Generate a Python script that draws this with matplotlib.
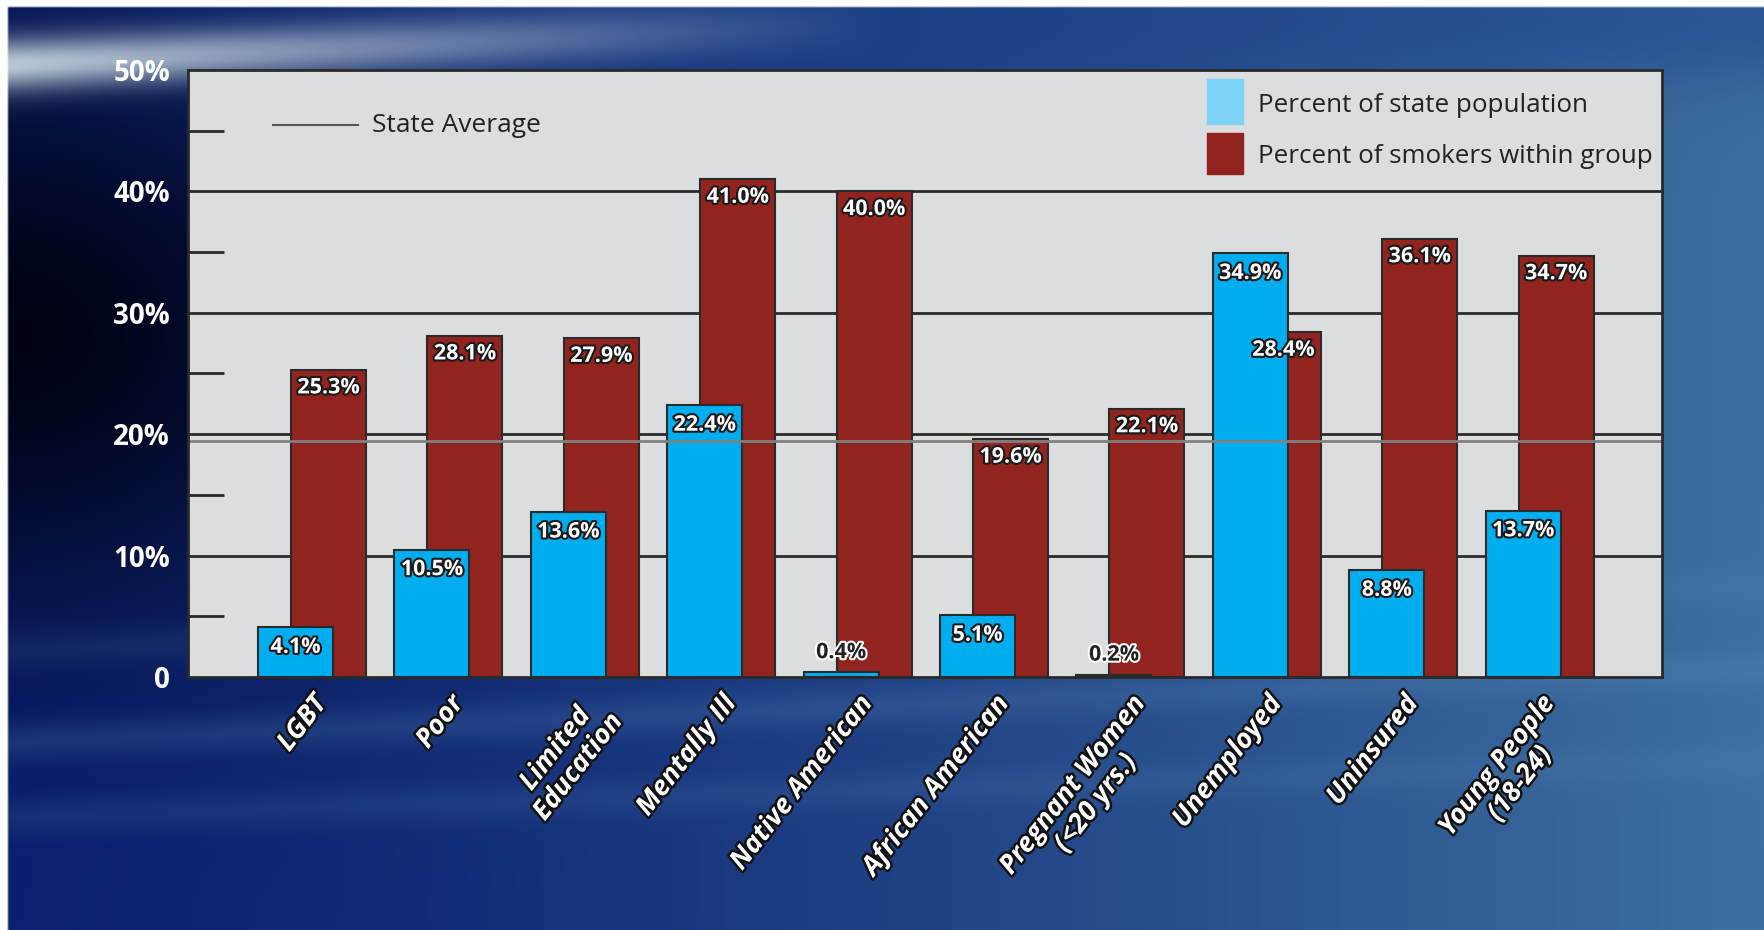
import numpy as np
import matplotlib
matplotlib.use("Agg")
import matplotlib.pyplot as plt
import matplotlib.patheffects as pe
from matplotlib.colors import to_rgb
from matplotlib.patches import Rectangle

# data
groups = ["LGBT", "Poor", "Limited\nEducation", "Mentally Ill", "Native American",
          "African American", "Pregnant Women\n(<20 yrs.)", "Unemployed", "Uninsured",
          "Young People\n(18-24)"]
pop_pct = [4.1, 10.5, 13.6, 22.4, 0.4, 5.1, 0.2, 34.9, 8.8, 13.7]
smoker_pct = [25.3, 28.1, 27.9, 41.0, 40.0, 19.6, 22.1, 28.4, 36.1, 34.7]
state_avg = 19.4
yticks = [0, 10, 20, 30, 40, 50]
ytick_labels = ["0", "10%", "20%", "30%", "40%", "50%"]
legend_labels = ["Percent of state population", "Percent of smokers within group"]

BLUE = "#00adef"
RED = "#922420"
EDGE = "#2a2a2a"
FONT = ["Open Sans", "DejaVu Sans"]

W, H = 1764, 930
fig = plt.figure(figsize=(W / 100, H / 100), dpi=100)

# background: blue gradient with a light swoosh
yy, xx = np.mgrid[0:1:465j, 0:1:882j]
w = (xx ** 1.3)[..., None]
img = np.array(to_rgb("#0a2070")) * (1 - w) + np.array(to_rgb("#3d70a0")) * w
d = np.exp(-(xx / 0.22) ** 2 - ((yy - 0.36) / 0.30) ** 2)[..., None]
img = img * (1 - d) + np.array(to_rgb("#000214")) * d
top = np.exp(-((yy - 0.02) / 0.08) ** 2)[..., None] * np.clip(xx / 0.6, 0, 1)[..., None] * 0.5
img = img * (1 - top) + np.array(to_rgb("#1b3e88")) * top
c = 0.07 - 0.09 * xx
s = (0.9 * np.exp(-((yy - c) / 0.028) ** 2) * np.clip(1 - xx / 0.5, 0, 1))[..., None]
img = img * (1 - s) + np.array(to_rgb("#cfdde6")) * s
for c0, c1, a in [(0.80, 0.72, 0.20), (0.88, 0.82, 0.14), (0.70, 0.63, 0.12)]:
    cc = c0 + (c1 - c0) * xx
    st = (a * np.exp(-((yy - cc) / 0.02) ** 2))[..., None]
    img = img * (1 - st) + np.array(to_rgb("#5f8fc0")) * st
img[:4, :, :] = 1.0
img[:, :4, :] = 1.0
bg = fig.add_axes([0, 0, 1, 1])
bg.imshow(np.clip(img, 0, 1), aspect="auto", extent=[0, 1, 0, 1], interpolation="bilinear")
bg.axis("off")

ax = fig.add_axes([188 / W, 1 - 677 / H, (1662 - 188) / W, (677 - 70) / H])
ax.set_facecolor("#dcdddf")
x = np.arange(len(groups))
ax.set_xlim(-0.909, 9.897)
ax.set_ylim(0, 50)

for g in [10, 20, 30, 40]:
    ax.axhline(g, color=EDGE, lw=2, zorder=1)

ax.bar(x + 0.121, smoker_pct, width=0.55, color=RED, edgecolor=EDGE, lw=1.5, zorder=2)
ax.bar(x - 0.121, pop_pct, width=0.55, color=BLUE, edgecolor=EDGE, lw=1.5, zorder=3)
ax.axhline(state_avg, color="#808080", lw=2, zorder=4)

for sp in ax.spines.values():
    sp.set_color(EDGE)
    sp.set_linewidth(2)
    sp.set_zorder(6)

dark = [pe.withStroke(linewidth=3, foreground="#1a1a1a")]
light = [pe.withStroke(linewidth=3, foreground="white")]

for xi, v in zip(x, smoker_pct):
    ax.annotate(f"{v:.1f}%", (xi + 0.121, v), xytext=(0, -13), textcoords="offset points",
                ha="center", va="center", color="white", fontsize=15.5, fontweight="bold",
                family=FONT, path_effects=dark, zorder=7)
for xi, v in zip(x, pop_pct):
    if v < 2:
        ax.annotate(f"{v:.1f}%", (xi - 0.121, v), xytext=(0, 14), textcoords="offset points",
                    ha="center", va="center", color="#222222", fontsize=15.5, fontweight="bold",
                    family=FONT, path_effects=light, zorder=7)
    else:
        ax.annotate(f"{v:.1f}%", (xi - 0.121, v), xytext=(0, -14.5), textcoords="offset points",
                    ha="center", va="center", color="white", fontsize=15.5, fontweight="bold",
                    family=FONT, path_effects=dark, zorder=7)

ax.set_yticks(yticks)
ax.set_yticklabels(ytick_labels, color="white", fontsize=20, fontweight="bold", family=FONT)
ax.set_yticks([5, 15, 25, 35, 45], minor=True)
ax.tick_params(axis="y", which="major", length=0, pad=13)
ax.tick_params(axis="y", which="minor", direction="in", length=26, width=2, color=EDGE)

ax.set_xticks(x)
ax.set_xticklabels(groups, rotation=52, ha="right", va="top", rotation_mode="anchor",
                   multialignment="center", color="white", fontsize=19.5, fontweight="bold",
                   fontstyle="italic", family=FONT, linespacing=1.15)
ax.tick_params(axis="x", length=0, pad=10)
for t in ax.get_xticklabels():
    t.set_path_effects([pe.withStroke(linewidth=3.5, foreground="#111111")])

# legends drawn by hand
ax.plot([0.058, 0.115], [0.909, 0.909], transform=ax.transAxes, color="#555555", lw=1.5, zorder=8)
ax.text(0.125, 0.909, "State Average", transform=ax.transAxes, va="center", ha="left",
        fontsize=19, color="#222222", family=FONT, zorder=8)
ax.add_patch(Rectangle((0.6913, 0.911), 0.0244, 0.0741, transform=ax.transAxes,
                       color="#7dd3f5", zorder=8))
ax.add_patch(Rectangle((0.6913, 0.8287), 0.0244, 0.0675, transform=ax.transAxes,
                       color=RED, zorder=8))
ax.text(0.726, 0.942, legend_labels[0], transform=ax.transAxes, va="center", ha="left",
        fontsize=18.7, color="#222222", family=FONT, zorder=8)
ax.text(0.726, 0.858, legend_labels[1], transform=ax.transAxes, va="center", ha="left",
        fontsize=18.7, color="#222222", family=FONT, zorder=8)

fig.savefig("out.png", dpi=100)
